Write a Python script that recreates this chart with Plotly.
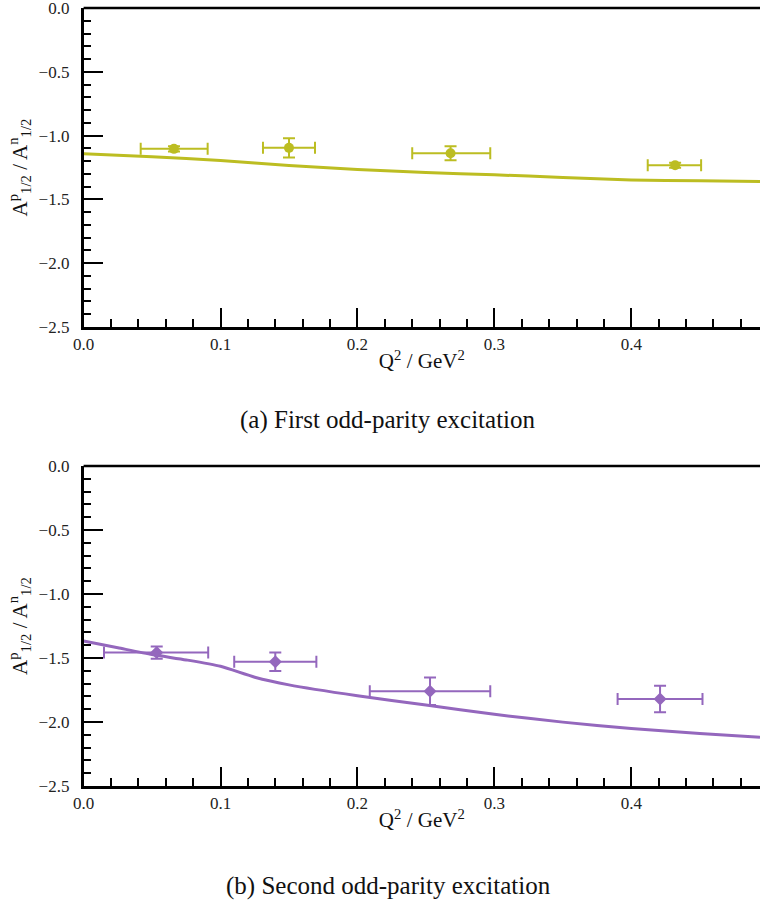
import plotly.graph_objects as go

# ---- data -------------------------------------------------------------
# (a) first odd-parity excitation
qa_pts = [0.066, 0.150, 0.268, 0.432]
qa_lo = [0.0417, 0.131, 0.240, 0.412]
qa_hi = [0.0906, 0.169, 0.297, 0.451]
ra_pts = [-1.104, -1.096, -1.138, -1.232]
ra_err = [0.02, 0.076, 0.055, 0.02]

qa_curve = [0.0, 0.05, 0.1, 0.15, 0.2, 0.25, 0.3, 0.35, 0.4, 0.45, 0.494]
ra_curve = [-1.143, -1.165, -1.195, -1.235, -1.265, -1.290, -1.307, -1.328,
            -1.347, -1.354, -1.359]

# (b) second odd-parity excitation
qb_pts = [0.0534, 0.140, 0.253, 0.421]
qb_lo = [0.0149, 0.110, 0.209, 0.390]
qb_hi = [0.091, 0.170, 0.297, 0.452]
rb_pts = [-1.458, -1.529, -1.760, -1.820]
rb_err = [0.048, 0.072, 0.107, 0.104]

qb_curve = [0.0, 0.025, 0.05, 0.075, 0.1, 0.125, 0.15, 0.2, 0.25, 0.3, 0.35,
            0.4, 0.45, 0.494]
rb_curve = [-1.367, -1.420, -1.473, -1.515, -1.565, -1.650, -1.710, -1.795,
            -1.868, -1.940, -2.001, -2.051, -2.089, -2.120]

x_ticks = [0.0, 0.1, 0.2, 0.3, 0.4]
y_ticks = [0.0, -0.5, -1.0, -1.5, -2.0, -2.5]

OLIVE = "#bcbd22"
PURPLE = "#9467bd"
FONT = "Liberation Serif, DejaVu Serif, serif"

W, H = 760, 907


def py(px):
    return 1 - px / H


fig = go.Figure()


def add_panel(n, q, lo, hi, r, rerr, qc, rc, color, symbol):
    xa = "x" if n == 1 else f"x{n}"
    ya = "y" if n == 1 else f"y{n}"
    fig.add_trace(go.Scatter(
        x=qc, y=rc, mode="lines", xaxis=xa, yaxis=ya,
        line=dict(color=color, width=3, shape="spline", smoothing=0.6),
        showlegend=False, hoverinfo="skip"))
    fig.add_trace(go.Scatter(
        x=q, y=r, mode="markers", xaxis=xa, yaxis=ya,
        marker=dict(color=color, size=10, symbol=symbol),
        error_x=dict(type="data", symmetric=False,
                     array=[h - c for h, c in zip(hi, q)],
                     arrayminus=[c - l for l, c in zip(lo, q)],
                     color=color, thickness=2, width=6),
        error_y=dict(type="data", array=rerr, color=color,
                     thickness=2, width=6),
        showlegend=False))


add_panel(1, qa_pts, qa_lo, qa_hi, ra_pts, ra_err, qa_curve, ra_curve,
          OLIVE, "circle")
add_panel(2, qb_pts, qb_lo, qb_hi, rb_pts, rb_err, qb_curve, rb_curve,
          PURPLE, "diamond")

x_dom = [83.6 / W, 1.0]
y_doms = {1: [py(327), py(8)], 2: [py(786), py(466)]}

tickfont = dict(family=FONT, size=17, color="#222")
title_font = dict(family=FONT, size=21, color="#111")

ytitle = "A<sup>p</sup><sub>1/2</sub> / A<sup>n</sup><sub>1/2</sub>"

for n in (1, 2):
    sx = "" if n == 1 else str(n)
    xaxis = dict(
        domain=x_dom, range=[0, 0.494], anchor="y" + sx,
        tickvals=x_ticks, ticktext=[f"{v:.1f}" for v in x_ticks],
        ticks="inside", ticklen=19, tickwidth=2, tickcolor="black",
        minor=dict(dtick=0.02, tick0=0, ticks="inside", ticklen=8,
                   tickwidth=2, tickcolor="black"),
        showline=True, linecolor="black", linewidth=2.5,
        showgrid=False, zeroline=False, automargin=False,
        tickfont=tickfont, ticklabeloverflow="allow",
        title=dict(text="Q<sup>2</sup> / GeV<sup>2</sup>", font=title_font,
                   standoff=1),
    )
    yaxis = dict(
        domain=y_doms[n], range=[-2.5, 0.0], anchor="x" + sx,
        tickvals=y_ticks, ticktext=[f"{v:.1f}".replace("-", "\u2212")
                                    for v in y_ticks],
        ticks="inside", ticklen=20, tickwidth=2, tickcolor="black",
        minor=dict(dtick=0.1, tick0=0, ticks="inside", ticklen=8,
                   tickwidth=2, tickcolor="black"),
        showline=True, linecolor="black", linewidth=2.5,
        showgrid=False, zeroline=False, automargin=False,
        tickfont=tickfont, ticklabelstandoff=8, ticklabeloverflow="allow",
        title=dict(text=ytitle, font=title_font, standoff=6),
    )
    fig.layout["xaxis" + sx] = xaxis
    fig.layout["yaxis" + sx] = yaxis
    # top frame line
    fig.add_shape(type="line", xref=f"x{sx} domain", yref=f"y{sx} domain",
                  x0=0, x1=1, y0=1, y1=1,
                  line=dict(color="black", width=2.5))

captions = [("(a) First odd-parity excitation", 420),
            ("(b) Second odd-parity excitation", 886)]
for text, ypx in captions:
    fig.add_annotation(text=text, xref="paper", yref="paper",
                       x=388 / W, y=py(ypx), showarrow=False,
                       xanchor="center", yanchor="middle",
                       font=dict(family=FONT, size=25, color="#111"))

fig.update_layout(
    width=W, height=H, margin=dict(l=0, r=0, t=0, b=0),
    paper_bgcolor="white", plot_bgcolor="white",
)

fig.write_html("out.html")
